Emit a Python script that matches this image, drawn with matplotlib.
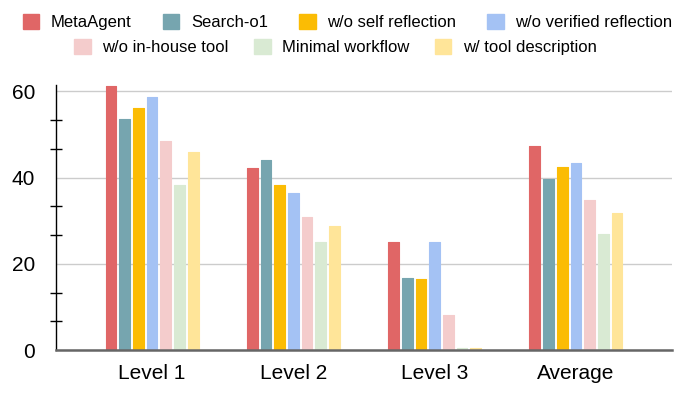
import numpy as np
import matplotlib
matplotlib.use("Agg")
import matplotlib.pyplot as plt
from matplotlib.patches import Patch
from matplotlib.ticker import MultipleLocator, FixedLocator

plt.rcParams['font.family'] = ['Liberation Sans', 'DejaVu Sans']

categories = ['Level 1', 'Level 2', 'Level 3', 'Average']
series = ['MetaAgent', 'Search-o1', 'w/o self reflection', 'w/o verified reflection',
          'w/o in-house tool', 'Minimal workflow', 'w/ tool description']
colors = ['#E06666', '#76A5AF', '#FBBC04', '#A4C2F4', '#F4CCCC', '#D9EAD3', '#FFE599']

meta_agent = [61.3, 42.2, 25.0, 47.3]
search_o1 = [53.7, 44.1, 16.7, 39.7]
wo_self_reflection = [56.2, 38.4, 16.4, 42.5]
wo_verified_reflection = [58.8, 36.5, 25.0, 43.5]
wo_inhouse_tool = [48.6, 30.8, 8.1, 34.9]
minimal_workflow = [38.4, 25.0, 0.5, 26.9]
w_tool_description = [46.0, 28.8, 0.5, 31.9]

values = [meta_agent, search_o1, wo_self_reflection, wo_verified_reflection,
          wo_inhouse_tool, minimal_workflow, w_tool_description]

fig = plt.figure(figsize=(6.75, 3.93), dpi=100)
ax = fig.add_axes([56 / 675, 1 - 350 / 393, 616 / 675, 265 / 393])

x = np.arange(len(categories))
slot = 0.097
width = 0.076
for i, (vals, c) in enumerate(zip(values, colors)):
    ax.bar(x + (i - 3) * slot, vals, width, color=c, edgecolor=c,
           linewidth=0.8, joinstyle='round', zorder=3)

ax.set_xlim(-0.68, 3.68)
ax.set_ylim(0, 61.5)
ax.set_xticks(x)
ax.set_xticklabels(categories, fontsize=15)
ax.tick_params(axis='x', length=0, pad=10)

ax.yaxis.set_major_locator(MultipleLocator(20))
ax.yaxis.set_minor_locator(FixedLocator([20 / 3, 40 / 3, 80 / 3, 100 / 3, 140 / 3, 160 / 3]))
ax.tick_params(axis='y', which='major', length=0, pad=15, labelsize=15)
ax.tick_params(axis='y', which='minor', direction='inout', length=9, width=1, color='black')
ax.grid(axis='y', which='major', color='#CCCCCC', linewidth=1, zorder=0)

for s in ['top', 'right']:
    ax.spines[s].set_visible(False)
ax.spines['left'].set_color('black')
ax.spines['left'].set_linewidth(1)
ax.spines['bottom'].set_color('#666666')
ax.spines['bottom'].set_linewidth(1.8)
ax.spines['bottom'].set_zorder(4)

handles = [Patch(facecolor=c, edgecolor=c, label=s) for s, c in zip(series, colors)]
common = dict(frameon=False, fontsize=12, handlelength=1.0, handleheight=1.0,
              handletextpad=0.7, borderpad=0, borderaxespad=0)
leg1 = fig.legend(handles=handles[:4], ncol=4, loc='center', columnspacing=1.85,
                  bbox_to_anchor=(0.515, 1 - 22 / 393), **common)
leg2 = fig.legend(handles=handles[4:], ncol=3, loc='center', columnspacing=1.5,
                  bbox_to_anchor=(0.497, 1 - 47 / 393), **common)

fig.savefig('out.png', dpi=100)
